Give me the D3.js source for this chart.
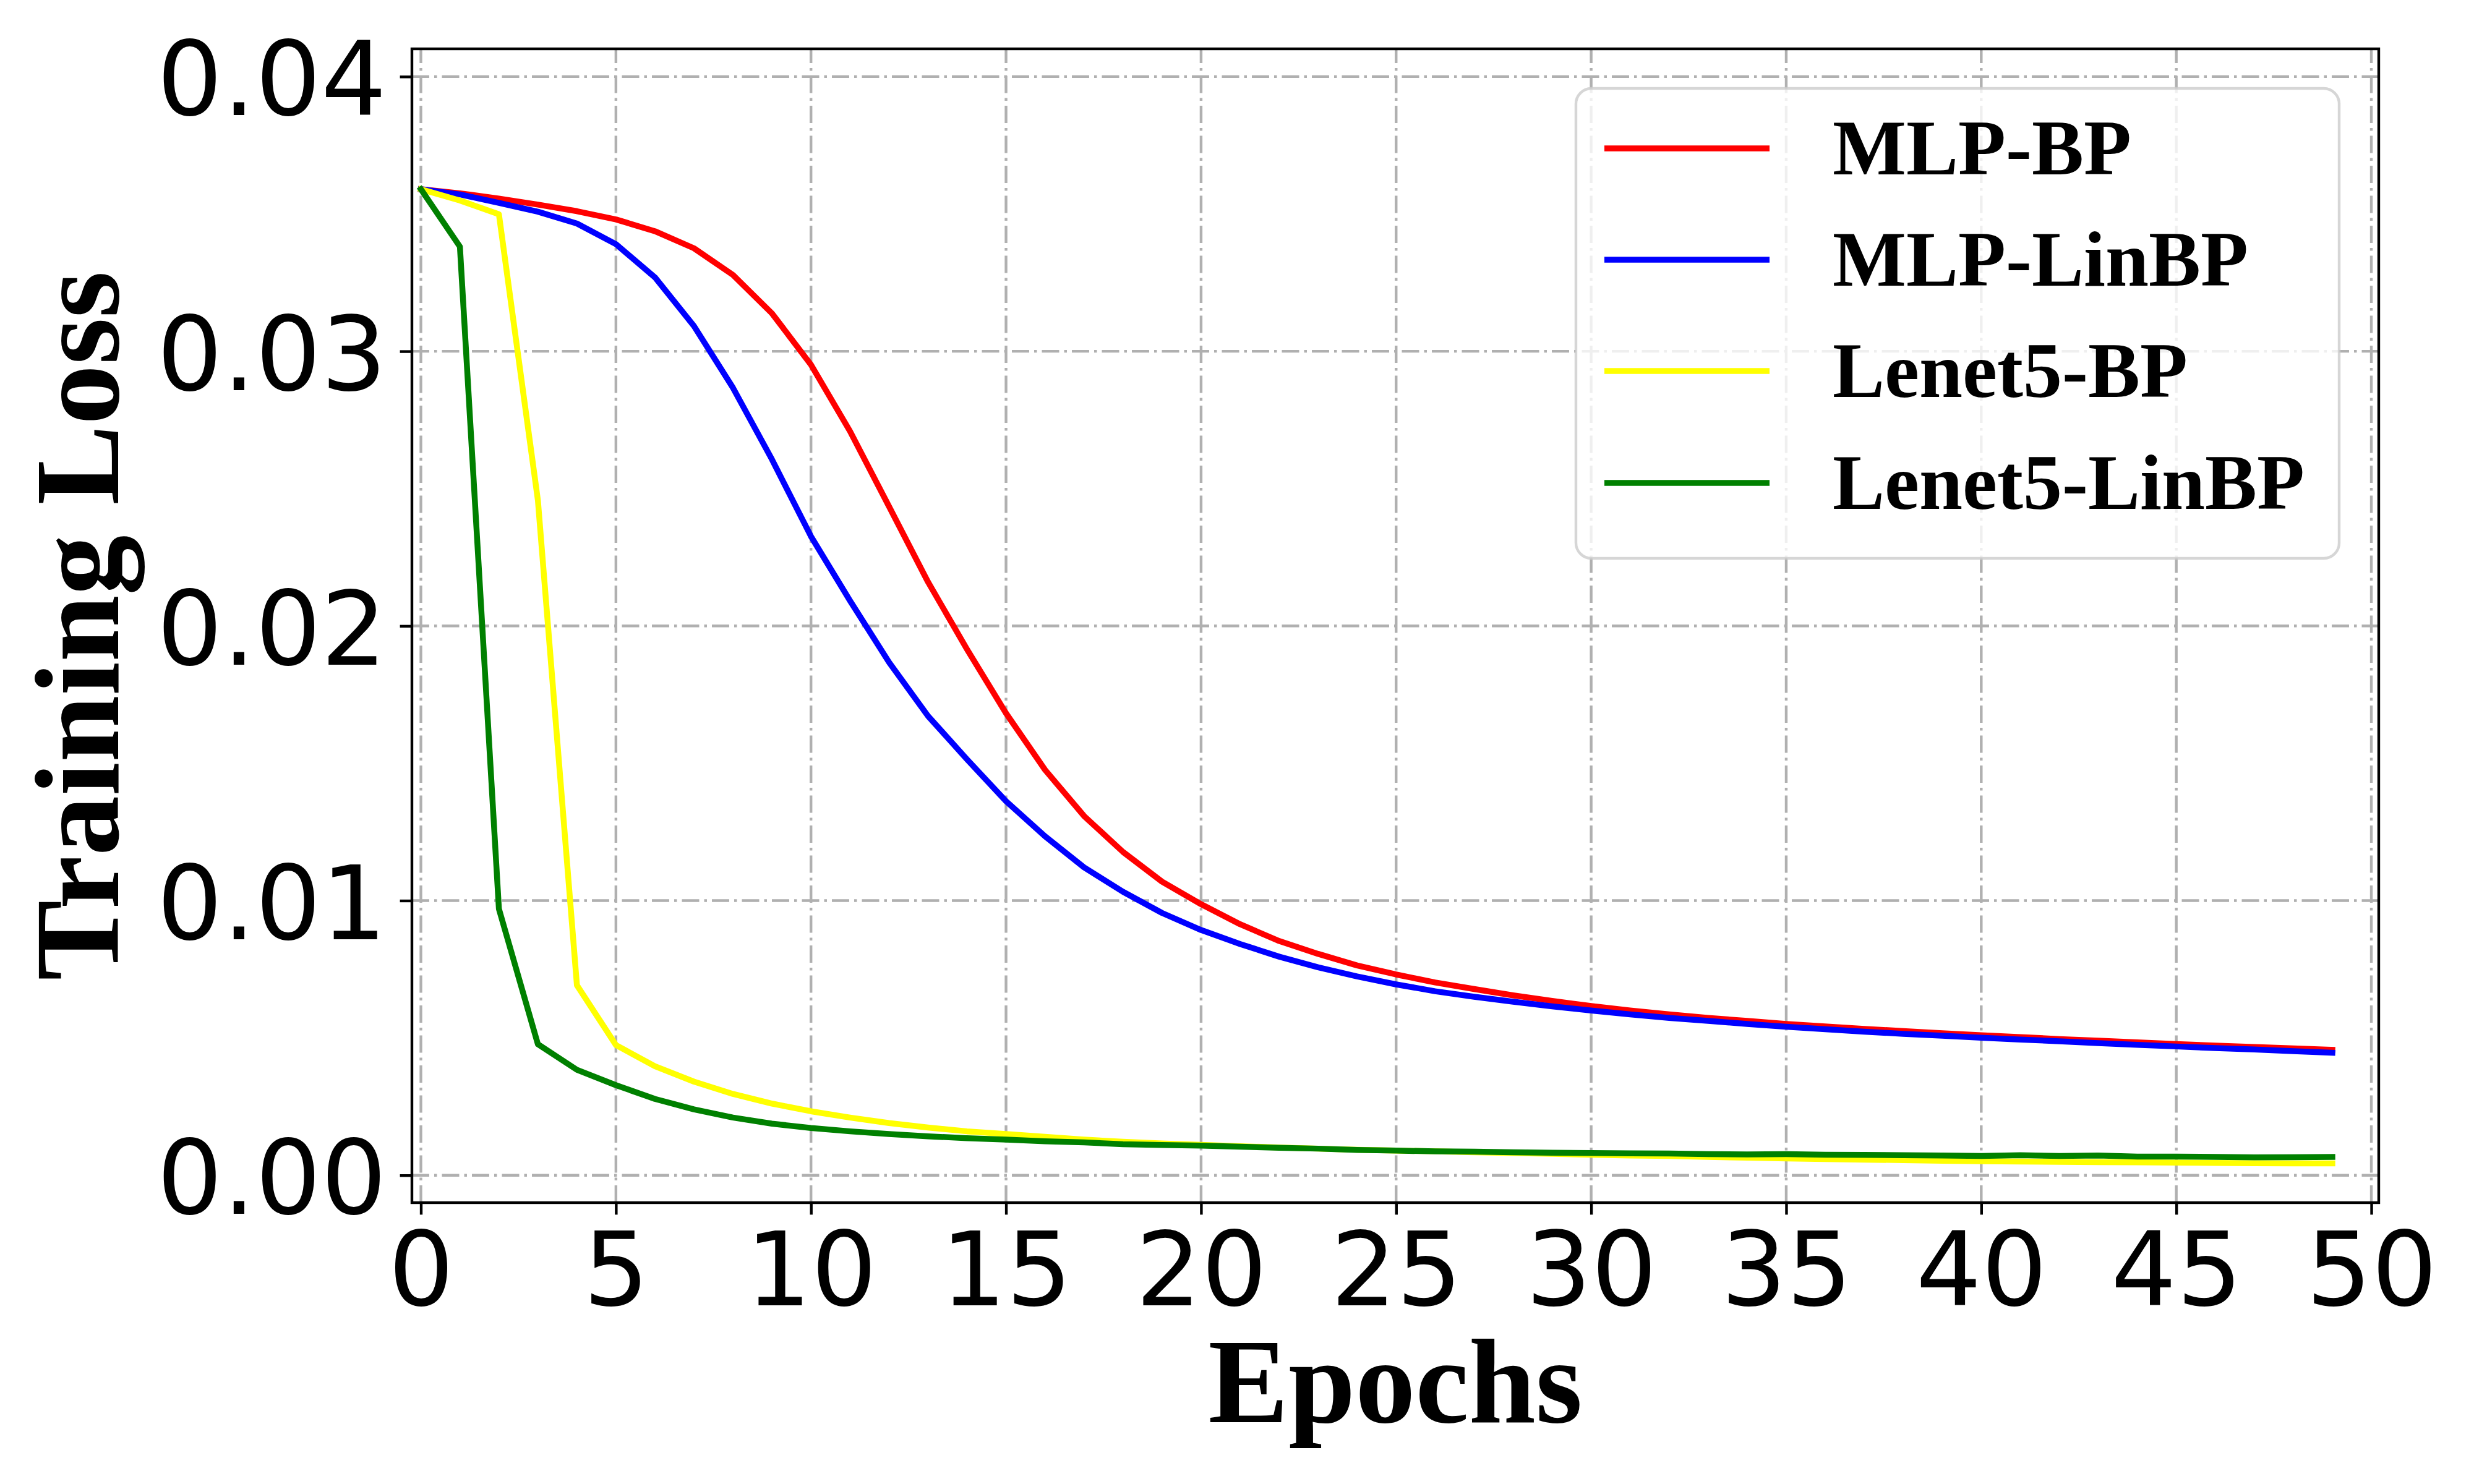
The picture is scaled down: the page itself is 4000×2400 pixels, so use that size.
<!DOCTYPE html>
<html>
<head>
<meta charset="utf-8">
<script src="https://cdn.jsdelivr.net/npm/d3@7"></script>
<style>
html, body { margin: 0; padding: 0; background: #ffffff; }
svg { display: block; }
</style>
</head>
<body>
<svg id="chart" width="4000" height="2400"></svg>
<script>
// ---- Data ----
const epochs = d3.range(0, 50);
const mlpBP = [0.0359, 0.03575, 0.03556, 0.03534, 0.0351, 0.0348, 0.03437, 0.03375, 0.03278, 0.03138,
  0.02951, 0.02709, 0.02435, 0.0216, 0.01915, 0.01682, 0.01476, 0.01308, 0.01177, 0.01069,
  0.00987, 0.00914, 0.00853, 0.00806, 0.00764, 0.00731, 0.00702, 0.00678, 0.00655, 0.00635,
  0.00616, 0.006, 0.00586, 0.00573, 0.00562, 0.00551, 0.00542, 0.00533, 0.00525, 0.00517,
  0.0051, 0.00503, 0.00496, 0.0049, 0.00484, 0.00478, 0.00472, 0.00467, 0.00462, 0.00457];
const mlpLinBP = [0.0359, 0.03571, 0.0354, 0.03508, 0.03465, 0.0339, 0.03269, 0.03092, 0.02867, 0.02606,
  0.02326, 0.02092, 0.01868, 0.01672, 0.01514, 0.01362, 0.01234, 0.01121, 0.01032, 0.00955,
  0.00893, 0.00842, 0.00796, 0.00757, 0.00724, 0.00695, 0.0067, 0.0065, 0.00632, 0.00615,
  0.006, 0.00586, 0.00573, 0.00562, 0.00551, 0.00541, 0.00532, 0.00523, 0.00515, 0.00508,
  0.00501, 0.00494, 0.00488, 0.00481, 0.00475, 0.00469, 0.00463, 0.00458, 0.00452, 0.00446];
const lenetBP = [0.0359, 0.03549, 0.03499, 0.02457, 0.00692, 0.00474, 0.00397, 0.00341, 0.00296, 0.00261,
  0.00233, 0.0021, 0.0019, 0.00174, 0.0016, 0.0015, 0.0014, 0.0013, 0.00122, 0.00116,
  0.00111, 0.00106, 0.00101, 0.00097, 0.00093, 0.0009, 0.00087, 0.00084, 0.00081, 0.00078,
  0.00075, 0.00072, 0.0007, 0.00067, 0.00064, 0.00061, 0.00059, 0.00057, 0.00055, 0.00053,
  0.00051, 0.0005, 0.00049, 0.00048, 0.00047, 0.00046, 0.00045, 0.00044, 0.00043, 0.00043];
const lenetLinBP = [0.0359, 0.03381, 0.0097, 0.00477, 0.00384, 0.00328, 0.00278, 0.0024, 0.0021, 0.00188,
  0.00172, 0.0016, 0.0015, 0.00142, 0.00135, 0.0013, 0.00124, 0.0012, 0.00113, 0.0011,
  0.00108, 0.00104, 0.001, 0.00097, 0.00092, 0.0009, 0.00087, 0.00086, 0.00084, 0.00082,
  0.00081, 0.0008, 0.00079, 0.00077, 0.00076, 0.00077, 0.00075, 0.00074, 0.00073, 0.00072,
  0.0007, 0.00073, 0.0007, 0.00072, 0.00068, 0.00068, 0.00067, 0.00065, 0.00066, 0.00067];

const seriesNames = ["MLP-BP", "MLP-LinBP", "Lenet5-BP", "Lenet5-LinBP"];
const seriesColors = ["#ff0000", "#0000ff", "#ffff00", "#008000"];
const seriesValues = [mlpBP, mlpLinBP, lenetBP, lenetLinBP];
const xTicks = d3.range(0, 51, 5);
const yTicks = [0.00, 0.01, 0.02, 0.03, 0.04];
const xLabel = "Epochs";
const yLabel = "Training Loss";

// ---- Layout ----
const L = 666, R = 3846, T = 79, B = 1945;
const svg = d3.select("#chart");
svg.append("rect").attr("width", 4000).attr("height", 2400).attr("fill", "#fff");

const x = d3.scaleLinear().domain([-0.23, 50.19]).range([L, R]);
const y = d3.scaleLinear().domain([-0.000997, 0.04101]).range([B, T]);

const gridColor = "#b0b0b0";
const gridW = 4.4;
const dash = "28,8,4.5,8";

// grid
const grid = svg.append("g");
grid.selectAll("line.gx").data(xTicks).join("line")
  .attr("x1", d => x(d)).attr("x2", d => x(d))
  .attr("y1", B).attr("y2", T)
  .attr("stroke", gridColor).attr("stroke-width", gridW)
  .attr("stroke-dasharray", dash);
grid.selectAll("line.gy").data(yTicks).join("line")
  .attr("x1", L).attr("x2", R)
  .attr("y1", d => y(d)).attr("y2", d => y(d))
  .attr("stroke", gridColor).attr("stroke-width", gridW)
  .attr("stroke-dasharray", dash);

// lines
const line = d3.line().x((d, i) => x(epochs[i])).y(d => y(d));
const linesG = svg.append("g");
seriesValues.forEach((vals, k) => {
  linesG.append("path")
    .datum(vals)
    .attr("d", line)
    .attr("fill", "none")
    .attr("stroke", seriesColors[k])
    .attr("stroke-width", 9.5)
    .attr("stroke-linejoin", "round")
    .attr("stroke-linecap", "square");
});

// axes
const tickFont = "'DejaVu Sans', sans-serif";
const xAxis = svg.append("g").attr("transform", `translate(0,${B})`)
  .call(d3.axisBottom(x).tickValues(xTicks).tickSize(19.4).tickFormat(d3.format("d")));
xAxis.select(".domain").remove();
xAxis.selectAll(".tick line").attr("stroke", "#000").attr("stroke-width", 4.4);
xAxis.selectAll(".tick text")
  .attr("y", 166).attr("dy", null)
  .attr("font-family", tickFont).attr("font-size", 166.7).attr("fill", "#000");

const yAxis = svg.append("g").attr("transform", `translate(${L},0)`)
  .call(d3.axisLeft(y).tickValues(yTicks).tickSize(19.4).tickFormat(d3.format(".2f")));
yAxis.select(".domain").remove();
yAxis.selectAll(".tick line").attr("stroke", "#000").attr("stroke-width", 4.4);
yAxis.selectAll(".tick text")
  .attr("x", -41).attr("y", 62).attr("dy", null)
  .attr("font-family", tickFont).attr("font-size", 166.7).attr("fill", "#000");

// frame
svg.append("rect")
  .attr("x", L).attr("y", T).attr("width", R - L).attr("height", B - T)
  .attr("fill", "none").attr("stroke", "#000").attr("stroke-width", 4.4);

// axis labels
const labelFont = "'Liberation Serif', 'Times New Roman', serif";
svg.append("text")
  .attr("x", (L + R) / 2).attr("y", 2300)
  .attr("text-anchor", "middle")
  .attr("font-family", labelFont).attr("font-weight", "bold").attr("font-size", 194.4)
  .attr("fill", "#000").text(xLabel);
svg.append("text")
  .attr("transform", `translate(191,${(T + B) / 2}) rotate(-90)`)
  .attr("text-anchor", "middle")
  .attr("font-family", labelFont).attr("font-weight", "bold").attr("font-size", 194.4)
  .attr("fill", "#000").text(yLabel);

// legend
const lg = svg.append("g");
lg.append("rect")
  .attr("x", 2548).attr("y", 143).attr("width", 3782 - 2548).attr("height", 903 - 143)
  .attr("rx", 25).attr("ry", 25)
  .attr("fill", "rgba(255,255,255,0.8)")
  .attr("stroke", "rgba(204,204,204,0.8)").attr("stroke-width", 4.4);
const rowY = [240, 420, 600, 781];
seriesNames.forEach((name, k) => {
  lg.append("line")
    .attr("x1", 2594).attr("x2", 2861)
    .attr("y1", rowY[k]).attr("y2", rowY[k])
    .attr("stroke", seriesColors[k]).attr("stroke-width", 9.5);
  lg.append("text")
    .attr("x", 2963).attr("y", rowY[k] + 42)
    .attr("font-family", labelFont).attr("font-weight", "bold").attr("font-size", 126)
    .attr("fill", "#000").text(name);
});
</script>
</body>
</html>
